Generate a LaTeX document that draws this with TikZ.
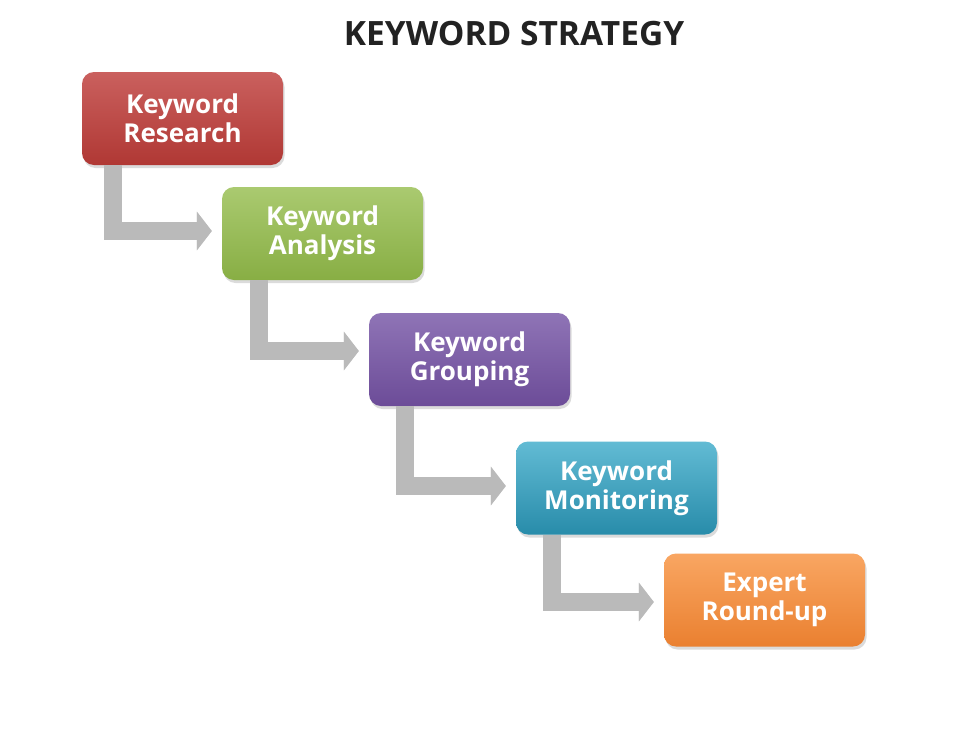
\documentclass[tikz,border=0pt]{standalone}
\usepackage{fontspec}
\setmainfont{Open Sans}
\usetikzlibrary{shadows,arrows.meta,calc}
\definecolor{redT}{RGB}{202,96,94}
\definecolor{redB}{RGB}{176,56,52}
\definecolor{grnT}{RGB}{170,202,112}
\definecolor{grnB}{RGB}{136,174,68}
\definecolor{purT}{RGB}{143,116,182}
\definecolor{purB}{RGB}{108,76,152}
\definecolor{bluT}{RGB}{98,187,212}
\definecolor{bluB}{RGB}{40,140,170}
\definecolor{orgT}{RGB}{249,166,98}
\definecolor{orgB}{RGB}{234,128,48}
\definecolor{arrgray}{RGB}{186,186,186}
\definecolor{titlecol}{RGB}{34,34,34}
\tikzset{
  stepbox/.style={rectangle, rounded corners=12pt, minimum width=201pt, minimum height=93pt,
    inner sep=0pt, align=center, text=white, font=\fontsize{26}{29}\selectfont\bfseries,
    drop shadow={opacity=0.28, shadow xshift=1.5pt, shadow yshift=-3pt}},
  flowarrow/.style={line width=18pt, draw=arrgray, line join=miter, line cap=butt,
    -{Triangle[width=38pt,length=15pt]}},
  flowshadow/.style={line width=18pt, draw=black, opacity=0.18, line join=miter, line cap=butt,
    -{Triangle[width=38pt,length=15pt]}, shift={(2pt,-3pt)}},
}
\begin{document}
\begin{tikzpicture}[x=1pt,y=-1pt]
\useasboundingbox[fill=white] (0,0) rectangle (960,739);
\node[font=\fontsize{33.5}{38}\selectfont\bfseries, text=titlecol] (title) at (514,34) {KEYWORD STRATEGY};

\coordinate (c1) at (113,231);
\coordinate (c2) at (259,351);
\coordinate (c3) at (405,486);
\coordinate (c4) at (552,602);

\node[stepbox, top color=redT, bottom color=redB] (r1) at (182.5,118.5) {Keyword\\Research};
\node[stepbox, top color=grnT, bottom color=grnB] (r2) at (322.5,233.5) {Keyword\\Analysis};
\node[stepbox, top color=purT, bottom color=purB] (r3) at (469.5,359.5) {Keyword\\Grouping};
\node[stepbox, top color=bluT, bottom color=bluB] (r4) at (616.5,488) {Keyword\\Monitoring};
\node[stepbox, top color=orgT, bottom color=orgB] (r5) at (764.5,600) {Expert\\Round-up};

\foreach \a/\c/\b in {r1/c1/r2, r2/c2/r3, r3/c3/r4, r4/c4/r5}{
  \draw[flowshadow] (\c |- \a.south) -- (\c) -- ($(\c -| \b.west)+(-10,0)$);
  \draw[flowarrow] (\c |- \a.south) -- (\c) -- ($(\c -| \b.west)+(-10,0)$);
}
\end{tikzpicture}
\end{document}
